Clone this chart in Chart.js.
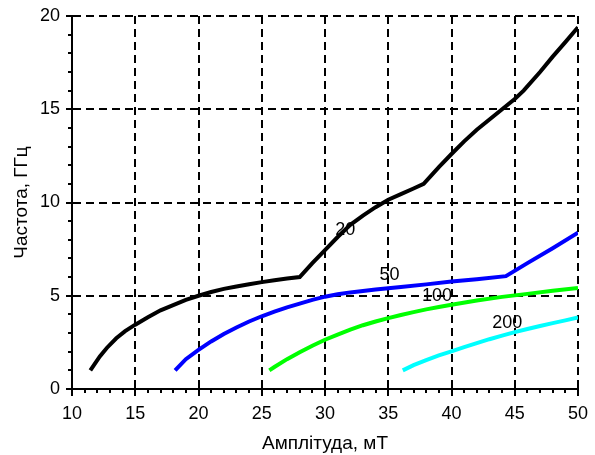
<!DOCTYPE html>
<html>
<head>
<meta charset="utf-8">
<script src="https://cdn.jsdelivr.net/npm/chart.js@4/dist/chart.umd.min.js"></script>
<style>
  html, body { margin: 0; padding: 0; background: #fff; }
  #chart { display: block; }
</style>
</head>
<body>
<canvas id="chart" width="595" height="455"></canvas>
<script>
// curve "20"
var x20 = [11.45, 12.2, 12.75, 13.5, 14.2, 15, 16, 17, 18, 19, 20, 21, 22, 23, 24, 25, 26, 27, 28,
           29, 30, 31, 32, 33, 34, 35, 36, 37, 37.8, 39, 40, 41, 42, 43, 44, 45, 45.7, 47, 48, 49, 50];
var y20 = [1.0, 1.75, 2.2, 2.72, 3.1, 3.45, 3.85, 4.22, 4.5, 4.78, 5.0, 5.2, 5.37, 5.5, 5.62, 5.73, 5.83, 5.92, 6.0,
           6.75, 7.45, 8.15, 8.8, 9.3, 9.75, 10.15, 10.45, 10.75, 11.0, 11.9, 12.6, 13.28, 13.9, 14.45, 15.0, 15.55, 16.0, 17.0, 17.82, 18.6, 19.4];
// curve "50"
var x50 = [18.15, 19, 20, 21, 22, 23, 24, 25, 26, 27, 28, 29, 30, 31, 32, 33, 34, 35, 36, 38, 40, 42, 44.3, 46, 48, 50];
var y50 = [1.0, 1.6, 2.1, 2.55, 2.95, 3.3, 3.62, 3.9, 4.15, 4.38, 4.58, 4.78, 4.95, 5.08, 5.18, 5.26, 5.33, 5.4, 5.47, 5.61, 5.76, 5.89, 6.05, 6.75, 7.55, 8.38];
// curve "100"
var x100 = [25.6, 26, 27, 28, 29, 30, 31, 32, 33, 34, 35, 36, 37, 38, 39, 40, 42, 44, 46, 48, 50];
var y100 = [1.0, 1.18, 1.6, 1.97, 2.32, 2.64, 2.92, 3.18, 3.42, 3.62, 3.8, 3.97, 4.12, 4.27, 4.4, 4.52, 4.75, 4.94, 5.1, 5.27, 5.42];
// curve "200"
var x200 = [36.15, 37, 38, 39, 40, 41, 42, 43, 44, 45, 46, 47, 48, 49, 50];
var y200 = [1.0, 1.28, 1.55, 1.8, 2.02, 2.25, 2.46, 2.67, 2.86, 3.05, 3.22, 3.38, 3.53, 3.68, 3.84];

var curveNames = ["20", "50", "100", "200"];
var curveColors = ["#000000", "#0000ff", "#00ff00", "#00ffff"];
// where the curve names sit, in data units
var nameX = [31.6, 35.1, 38.85, 44.4];
var nameY = [8.55, 6.13, 4.97, 3.54];

var xTitle = "Амплітуда, мТ";
var yTitle = "Частота, ГГц";

var FONT = "'Liberation Sans', Arial, sans-serif";

function toPoints(xs, ys) {
    var pts = [];
    for (var i = 0; i < xs.length; i++) pts.push({x: xs[i], y: ys[i]});
    return pts;
}

var allX = [x20, x50, x100, x200];
var allY = [y20, y50, y100, y200];
var datasets = [];
for (var i = 0; i < curveNames.length; i++) {
    datasets.push({
        label: curveNames[i],
        data: toPoints(allX[i], allY[i]),
        borderColor: curveColors[i],
        borderWidth: 4,
        pointRadius: 0,
        tension: 0,
        fill: false
    });
}

// tick marks crossing the axes + curve names
var extras = {
    id: "extras",
    afterDraw: function(chart) {
        var ctx = chart.ctx;
        var xs = chart.scales.x, ys = chart.scales.y;
        var x0 = xs.left, y0 = ys.bottom;
        ctx.save();
        ctx.strokeStyle = "#000";
        ctx.lineWidth = 2;
        ctx.beginPath();
        for (var v = 10; v <= 50; v++) {
            var px = Math.round(xs.getPixelForValue(v));
            if (v % 5 === 0) { ctx.moveTo(px, y0 - 6); ctx.lineTo(px, y0 + 7); }
            else { ctx.moveTo(px, y0); ctx.lineTo(px, y0 + 4); }
        }
        for (var w = 0; w <= 20; w++) {
            var py = Math.round(ys.getPixelForValue(w));
            if (w % 5 === 0) { ctx.moveTo(x0 - 6, py); ctx.lineTo(x0 + 6, py); }
            else { ctx.moveTo(x0 - 4, py); ctx.lineTo(x0, py); }
        }
        ctx.stroke();

        ctx.fillStyle = "#000";
        ctx.font = "18px " + FONT;
        ctx.textAlign = "center";
        ctx.textBaseline = "middle";
        for (var k = 0; k < curveNames.length; k++) {
            ctx.fillText(curveNames[k], xs.getPixelForValue(nameX[k]), ys.getPixelForValue(nameY[k]));
        }
        ctx.restore();
    }
};

var ctx = document.getElementById("chart").getContext("2d");
var chart = new Chart(ctx, {
    type: "line",
    data: { datasets: datasets },
    options: {
        responsive: false,
        animation: false,
        layout: { padding: { top: 16, right: 17, left: 0, bottom: 0 } },
        plugins: { legend: { display: false }, tooltip: { enabled: false } },
        scales: {
            x: {
                type: "linear",
                min: 10, max: 50,
                afterFit: function(s) { s.height = 66; s.paddingLeft = 0; s.paddingRight = 0; },
                ticks: { stepSize: 5, color: "#000", padding: 14, font: { family: FONT, size: 18 } },
                grid: { color: "#000", lineWidth: 2, drawTicks: false },
                border: { display: true, color: "#000", width: 2, dash: [8, 5] },
                title: { display: true, text: xTitle, color: "#000", font: { family: FONT, size: 19 }, padding: { top: 0, bottom: 0 } }
            },
            y: {
                type: "linear",
                min: 0, max: 20,
                afterFit: function(s) { s.width = 72; s.paddingTop = 0; s.paddingBottom = 0; },
                ticks: { stepSize: 5, color: "#000", padding: 12, font: { family: FONT, size: 18 } },
                grid: { color: "#000", lineWidth: 2, drawTicks: false },
                border: { display: true, color: "#000", width: 2, dash: [8, 5] },
                title: { display: true, text: yTitle, color: "#000", font: { family: FONT, size: 19 }, padding: { top: 10, bottom: 0 } }
            }
        }
    },
    plugins: [extras]
});
</script>
</body>
</html>
